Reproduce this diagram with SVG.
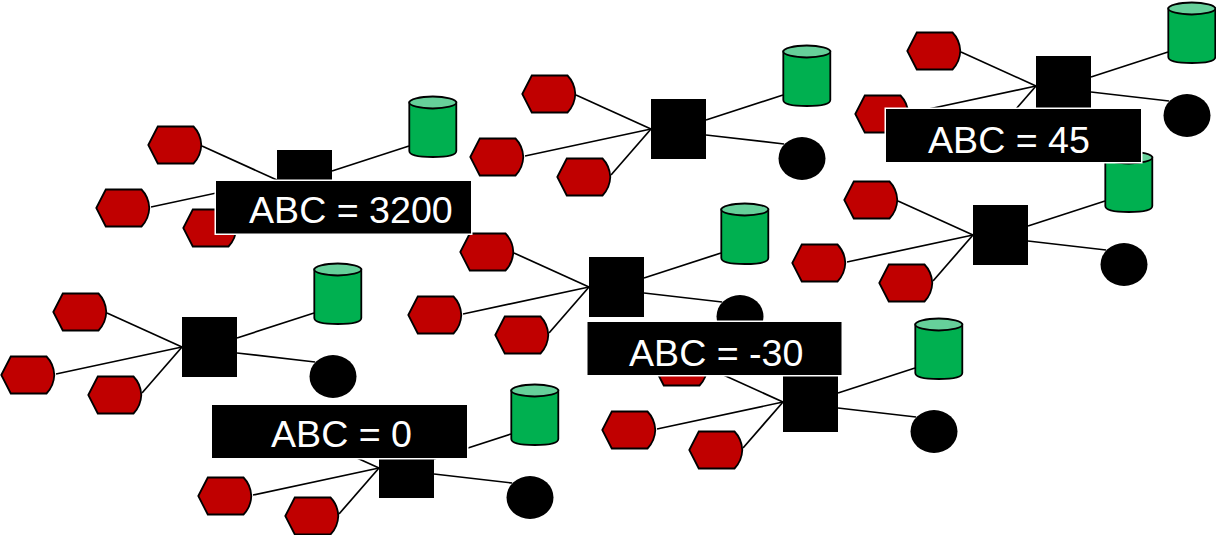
<svg xmlns="http://www.w3.org/2000/svg" width="1216" height="535" viewBox="0 0 1216 535">
<style>
.bg{fill:#fff}
.lnk line{stroke:#000;stroke-width:1.7;fill:none}
.hex{fill:#c00000;stroke:#000;stroke-width:1.8}
.body{fill:#00b050;stroke:#000;stroke-width:1.8}
.top{fill:#66d09a;stroke:#000;stroke-width:1.8}
.sq{fill:#000}
.dot{fill:#000}
.lab{fill:#000;stroke:#fff;stroke-width:1.5}
.txt{font-family:"Liberation Sans",Arial,sans-serif;font-size:37.6px;fill:#fff}
</style>
<defs>
<g id="h"><path class="hex" d="M0.3 19 L9.8 0.5 H45.5 Q52.8 8 53.3 19 Q52.8 30 45.5 37.5 H9.8 Z"/></g>
<g id="c"><path class="body" d="M0.3 6.5 V55 Q0.3 61 23.8 61 Q47.3 61 47.3 55 V6.5 Z"/><ellipse class="top" cx="23.8" cy="6.5" rx="23.5" ry="6"/></g>
<rect id="s" class="sq" width="55" height="60"/>
<ellipse id="d" class="dot" rx="23.5" ry="21.5"/>
</defs>
<rect class="bg" width="1216" height="535"/>
<g id="connectors" class="lnk">
<line x1="202" y1="146" x2="277" y2="180"/><line x1="151" y1="207" x2="277" y2="180"/><line x1="332" y1="171" x2="409" y2="146"/>
<line x1="961" y1="52" x2="1036" y2="86"/><line x1="910" y1="113" x2="1036" y2="86"/><line x1="996" y1="132" x2="1036" y2="86"/><line x1="1091" y1="77" x2="1168" y2="52"/><line x1="1091" y1="92" x2="1169" y2="101"/>
<line x1="576" y1="95" x2="651" y2="129"/><line x1="525" y1="156" x2="651" y2="129"/><line x1="611" y1="175" x2="651" y2="129"/><line x1="706" y1="120" x2="783" y2="95"/><line x1="706" y1="135" x2="784" y2="144"/>
<line x1="898" y1="201" x2="973" y2="235"/><line x1="847" y1="262" x2="973" y2="235"/><line x1="933" y1="281" x2="973" y2="235"/><line x1="1028" y1="226" x2="1105" y2="201"/><line x1="1028" y1="241" x2="1106" y2="250"/>
<line x1="514" y1="253" x2="589" y2="287"/><line x1="463" y1="314" x2="589" y2="287"/><line x1="549" y1="333" x2="589" y2="287"/><line x1="644" y1="278" x2="721" y2="253"/><line x1="644" y1="293" x2="722" y2="302"/>
<line x1="107" y1="313" x2="182" y2="347"/><line x1="56" y1="374" x2="182" y2="347"/><line x1="142" y1="393" x2="182" y2="347"/><line x1="237" y1="338" x2="314" y2="313"/><line x1="237" y1="353" x2="315" y2="362"/>
<line x1="708" y1="368" x2="783" y2="402"/><line x1="657" y1="429" x2="783" y2="402"/><line x1="743" y1="448" x2="783" y2="402"/><line x1="838" y1="393" x2="915" y2="368"/><line x1="838" y1="408" x2="916" y2="417"/>
<line x1="304" y1="434" x2="379" y2="468"/><line x1="253" y1="495" x2="379" y2="468"/><line x1="339" y1="514" x2="379" y2="468"/><line x1="434" y1="459" x2="511" y2="434"/><line x1="434" y1="474" x2="512" y2="483"/>
</g>
<g id="n1a" transform="translate(148 126)"><use href="#h"/></g>
<g id="n1b" transform="translate(96 189)"><use href="#h"/></g>
<g id="n1c" transform="translate(183 209)"><use href="#h"/></g>
<g id="n1s" transform="translate(277 150)"><use href="#s"/></g>
<g id="n1y" transform="translate(409 96)"><use href="#c"/></g>
<g id="n2a" transform="translate(907 32)"><use href="#h"/></g>
<g id="n2b" transform="translate(855 95)"><use href="#h"/></g>
<g id="n2s" transform="translate(1036 56)"><use href="#s"/></g>
<g id="n2y" transform="translate(1168 2)"><use href="#c"/></g>
<g id="n2d" transform="translate(1187 115.5)"><use href="#d"/></g>
<g id="n3a" transform="translate(522 75)"><use href="#h"/></g>
<g id="n3b" transform="translate(470 138)"><use href="#h"/></g>
<g id="n3c" transform="translate(557 158)"><use href="#h"/></g>
<g id="n3s" transform="translate(651 99)"><use href="#s"/></g>
<g id="n3y" transform="translate(783 45)"><use href="#c"/></g>
<g id="n3d" transform="translate(802 158.5)"><use href="#d"/></g>
<g id="n4a" transform="translate(844 181)"><use href="#h"/></g>
<g id="n4b" transform="translate(792 244)"><use href="#h"/></g>
<g id="n4c" transform="translate(879 264)"><use href="#h"/></g>
<g id="n4s" transform="translate(973 205)"><use href="#s"/></g>
<g id="n4y" transform="translate(1105 151)"><use href="#c"/></g>
<g id="n4d" transform="translate(1124 264.5)"><use href="#d"/></g>
<g id="n5a" transform="translate(460 233)"><use href="#h"/></g>
<g id="n5b" transform="translate(408 296)"><use href="#h"/></g>
<g id="n5c" transform="translate(495 316)"><use href="#h"/></g>
<g id="n5s" transform="translate(589 257)"><use href="#s"/></g>
<g id="n5y" transform="translate(721 203)"><use href="#c"/></g>
<g id="n5d" transform="translate(740 316.5)"><use href="#d"/></g>
<g id="n6a" transform="translate(53 293)"><use href="#h"/></g>
<g id="n6b" transform="translate(1 356)"><use href="#h"/></g>
<g id="n6c" transform="translate(88 376)"><use href="#h"/></g>
<g id="n6s" transform="translate(182 317)"><use href="#s"/></g>
<g id="n6y" transform="translate(314 263)"><use href="#c"/></g>
<g id="n6d" transform="translate(333 376.5)"><use href="#d"/></g>
<g id="n7a" transform="translate(654 348)"><use href="#h"/></g>
<g id="n7b" transform="translate(602 411)"><use href="#h"/></g>
<g id="n7c" transform="translate(689 431)"><use href="#h"/></g>
<g id="n7s" transform="translate(783 372)"><use href="#s"/></g>
<g id="n7y" transform="translate(915 318)"><use href="#c"/></g>
<g id="n7d" transform="translate(934 431.5)"><use href="#d"/></g>
<g id="n8b" transform="translate(198 477)"><use href="#h"/></g>
<g id="n8c" transform="translate(285 497)"><use href="#h"/></g>
<g id="n8s" transform="translate(379 438)"><use href="#s"/></g>
<g id="n8y" transform="translate(511 384)"><use href="#c"/></g>
<g id="n8d" transform="translate(530 497.5)"><use href="#d"/></g>
<g id="label-3200"><rect class="lab" x="215.25" y="180.25" width="256.5" height="54"/><text class="txt" x="249" y="223">ABC = 3200</text></g>
<g id="label-45"><rect class="lab" x="885.25" y="108.25" width="256.5" height="54.5"/><text class="txt" x="928" y="153">ABC = 45</text></g>
<g id="label-30"><rect class="lab" x="586.75" y="321.25" width="255.5" height="54.5"/><text class="txt" x="629" y="366">ABC = -30</text></g>
<g id="label-0"><rect class="lab" x="211.25" y="404.25" width="256.5" height="54.5"/><text class="txt" x="271" y="447">ABC = 0</text></g>
</svg>
